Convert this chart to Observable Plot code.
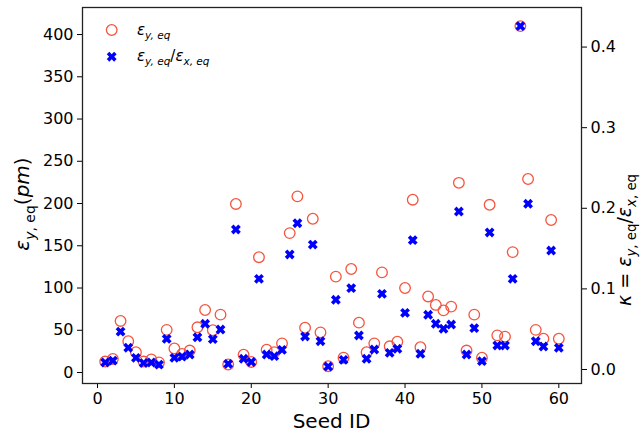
<!DOCTYPE html>
<html>
<head>
<meta charset="utf-8">
<script src="https://cdn.jsdelivr.net/npm/d3@7"></script>
<script src="https://cdn.jsdelivr.net/npm/@observablehq/plot@0.6"></script>
<style>
  body { margin: 0; background: #fff; }
  #chart svg { display: block; }
</style>
</head>
<body>
<div id="chart"></div>
<script>
const seedIds = [1,2,3,4,5,6,7,8,9,10,11,12,13,14,15,16,17,18,19,20,
  21,22,23,24,25,26,27,28,29,30,31,32,33,34,35,36,37,38,39,40,
  41,42,43,44,45,46,47,48,49,50,51,52,53,54,55,56,57,58,59,60];
const epsY = [13,16,61,37,24,13,15.5,12,50.5,28.5,
  22,26,53.5,74,50,68.5,9.5,199.5,21,12.5,
  136.5,27,24,34.5,165,208.5,53,182,47.5,7.5,
  113.5,17.5,122.5,59,24,34.5,118.5,31,36.5,100,
  204.5,30,90,80,73.5,78,224.5,26,68.5,17.5,
  198.5,44,42.5,142.5,410,229,50.5,40,180.5,40];
const kappa = [0.0087,0.011,0.047,0.027,0.0145,0.008,0.0087,0.006,0.038,0.0145,
  0.016,0.0186,0.040,0.0567,0.0376,0.0496,0.007,0.1737,0.0133,0.0093,
  0.1125,0.0186,0.0165,0.0244,0.1427,0.1815,0.041,0.155,0.0351,0.0037,
  0.0865,0.012,0.1009,0.0422,0.0133,0.0248,0.0939,0.0207,0.0257,0.0703,
  0.1605,0.0195,0.0679,0.0567,0.0505,0.0558,0.196,0.0186,0.0513,0.0103,
  0.170,0.0298,0.0298,0.1125,0.426,0.2056,0.0351,0.0285,0.1476,0.0269];
const xTicks = [0,10,20,30,40,50,60];
const yTicks = [0,50,100,150,200,250,300,350,400];
const kTicks = [0.0,0.1,0.2,0.3,0.4];

const xDomain = [-1.95, 62.95];
const yDomain = [-13, 432];
const kDomain = [-0.01737, 0.4491];

const kToY = d3.scaleLinear().domain(kDomain).range(yDomain);

const data = seedIds.map((id, i) => ({id, eps: epsY[i], k: kappa[i]}));

// filled "X" marker like matplotlib's 'X'
const filledX = {
  draw(ctx, size) {
    const r = Math.sqrt(size / Math.PI);
    const L = 1.2 * r, w = 0.42 * r;
    const pts = [[-w,-L],[w,-L],[w,-w],[L,-w],[L,w],[w,w],[w,L],[-w,L],[-w,w],[-L,w],[-L,-w],[-w,-w]];
    const c = Math.SQRT1_2;
    pts.forEach(([x,y], j) => {
      const px = (x - y) * c, py = (x + y) * c;
      if (j === 0) ctx.moveTo(px, py); else ctx.lineTo(px, py);
    });
    ctx.closePath();
  }
};

const chart = Plot.plot({
  width: 641,
  height: 432,
  marginLeft: 82,
  marginRight: 60,
  marginTop: 7,
  marginBottom: 49,
  style: {fontFamily: "DejaVu Sans", fontSize: "16px", color: "#000", background: "#fff"},
  x: {domain: xDomain},
  y: {domain: yDomain},
  marks: [
    Plot.axisX({ticks: xTicks, tickSize: 5, tickPadding: 4, label: null, tickFormat: d3.format("d")}),
    Plot.axisY({ticks: yTicks, tickSize: 5, tickPadding: 4, label: null, tickFormat: d3.format("d")}),
    Plot.axisY({anchor: "right", ticks: kTicks.map(kToY), tickSize: 5, tickPadding: 4, label: null,
      tickFormat: d => d3.format(".1f")(Math.round(kToY.invert(d) * 10) / 10)}),
    Plot.dot(data, {x: "id", y: "eps", r: 5.3, stroke: "#f4553e", fill: "none", strokeWidth: 1.3}),
    Plot.dot(data, {x: "id", y: d => kToY(d.k), symbol: filledX, r: 4.3, fill: "#0000ff", stroke: "none"}),
    Plot.frame({stroke: "#222", strokeWidth: 1.3})
  ]
});
document.getElementById("chart").appendChild(chart);

// Labels and legend with math-style subscripts
const svg = d3.select(chart);
function mathText(g, parts, size) {
  let shifted = false;
  parts.forEach(p => {
    const t = g.append("tspan").text(p.t)
      .attr("font-size", p.sub ? size * 0.7 : size)
      .attr("font-style", p.i ? "italic" : "normal");
    if (p.sub && !shifted) { t.attr("dy", size * 0.28); shifted = true; }
    else if (!p.sub && shifted) { t.attr("dy", -size * 0.28); shifted = false; }
  });
}
const font = "DejaVu Sans";

// x label
svg.append("text").attr("x", 331.5).attr("y", 428).attr("text-anchor", "middle")
  .attr("font-family", font).attr("font-size", 20).attr("fill", "#000").text("Seed ID");

// left y label
const ly = svg.append("text").attr("transform", "translate(29,204) rotate(-90)")
  .attr("text-anchor", "middle").attr("font-family", font).attr("fill", "#000");
mathText(ly, [
  {t: "ε", i: true}, {t: "y", i: true, sub: true}, {t: ", eq", sub: true},
  {t: "("}, {t: "pm", i: true}, {t: ")"}
], 20);

// right y label
const ry = svg.append("text").attr("transform", "translate(631,240) rotate(-90)")
  .attr("text-anchor", "middle").attr("font-family", font).attr("fill", "#000");
mathText(ry, [
  {t: "κ", i: true}, {t: " = "}, {t: "ε", i: true}, {t: "y", i: true, sub: true}, {t: ", eq", sub: true},
  {t: "/"}, {t: "ε", i: true}, {t: "x", i: true, sub: true}, {t: ", eq", sub: true}
], 19);

// legend
const leg = svg.append("g").attr("font-family", font).attr("fill", "#000").attr("text-anchor", "start");
leg.append("circle").attr("cx", 111.7).attr("cy", 30).attr("r", 5.3)
  .attr("fill", "none").attr("stroke", "#f4553e").attr("stroke-width", 1.3);
const ctx1 = d3.path(); filledX.draw(ctx1, Math.PI * 4.3 * 4.3);
leg.append("path").attr("d", ctx1.toString()).attr("transform", "translate(111.7,56.7)").attr("fill", "#0000ff");
const t1 = leg.append("text").attr("x", 137).attr("y", 35).attr("text-anchor", "start");
mathText(t1, [{t: "ε", i: true}, {t: "y, eq", i: true, sub: true}], 15);
const t2 = leg.append("text").attr("x", 137).attr("y", 61).attr("text-anchor", "start");
mathText(t2, [{t: "ε", i: true}, {t: "y, eq", i: true, sub: true}, {t: "/"}, {t: "ε", i: true}, {t: "x, eq", i: true, sub: true}], 15);
</script>
</body>
</html>
